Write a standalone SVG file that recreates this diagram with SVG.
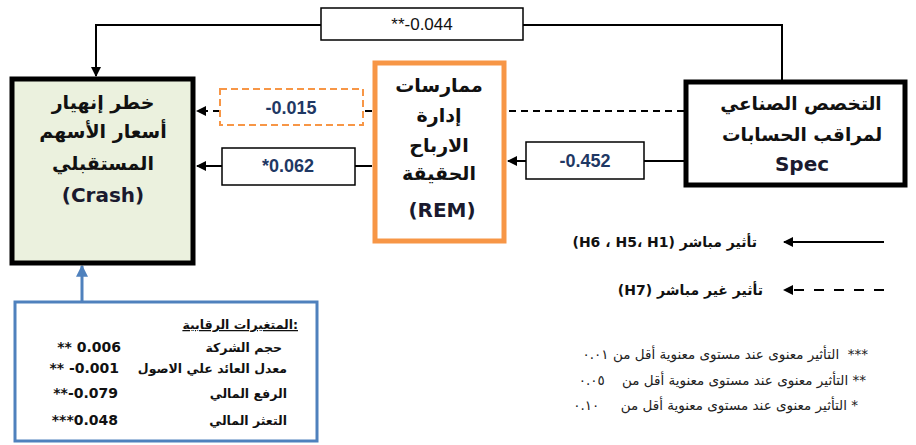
<svg xmlns="http://www.w3.org/2000/svg" width="916" height="445" viewBox="0 0 916 445">
<defs>
<marker id="ah" markerUnits="userSpaceOnUse" markerWidth="10" markerHeight="10" viewBox="0 0 10 10" refX="9" refY="5" orient="auto">
<path d="M0,0 L10,5 L0,10 Z" fill="#000"/>
</marker>
<marker id="ahb" markerUnits="userSpaceOnUse" markerWidth="12" markerHeight="12" viewBox="0 0 10 10" refX="9" refY="5" orient="auto">
<path d="M0,0 L10,5 L0,10 Z" fill="#4F81BD"/>
</marker>
<style>
.ar{font-family:"DejaVu Sans","Noto Sans",sans-serif;font-weight:bold;fill:#111;}
.big{font-size:19px;}
.lat{font-family:"DejaVu Sans","Liberation Sans",sans-serif;font-weight:bold;fill:#1a1a2e;font-size:20px;}
.lbl{font-family:"Liberation Sans",Arial,sans-serif;font-size:18px;font-weight:bold;fill:#1F3864;}
.box{fill:#fff;stroke:#000;stroke-width:1.5;}
.ln{fill:none;stroke:#000;stroke-width:2;}
.dash{fill:none;stroke:#000;stroke-width:2;stroke-dasharray:7,5;}
.sm{font-family:"DejaVu Sans",sans-serif;font-size:12.5px;font-weight:bold;fill:#111;}
.num{font-family:"DejaVu Sans",sans-serif;font-size:14px;font-weight:bold;fill:#111;}
.leg{font-family:"DejaVu Sans",sans-serif;font-size:14px;font-weight:bold;fill:#111;}
.note{font-family:"DejaVu Sans",sans-serif;font-size:13.5px;fill:#222;white-space:pre;}
</style>
</defs>
<rect width="916" height="445" fill="#fff"/>

<g id="connectors">
<polyline class="ln" points="782,80 782,25 96,25 96,76" marker-end="url(#ah)"/>
<line class="dash" x1="684" y1="111" x2="506" y2="111"/>
<line class="dash" x1="372" y1="111" x2="363" y2="111"/>
<line class="dash" x1="220" y1="111" x2="197" y2="111" marker-end="url(#ah)"/>
<line class="ln" x1="372" y1="166" x2="355" y2="166"/>
<line class="ln" x1="222" y1="166" x2="197" y2="166" marker-end="url(#ah)"/>
<line class="ln" x1="684" y1="161" x2="644" y2="161"/>
<line class="ln" x1="526" y1="161" x2="508" y2="161" marker-end="url(#ah)"/>
<line x1="82" y1="301" x2="82" y2="266" stroke="#4F81BD" stroke-width="3" marker-end="url(#ahb)"/>
</g>

<g id="label-top">
<rect class="box" x="321" y="8" width="202" height="32"/>
<text x="422" y="30" text-anchor="middle" direction="ltr" font-family="Liberation Sans, Arial, sans-serif" font-size="17" fill="#111">**-0.044</text>
</g>
<g id="label-015">
<rect x="220" y="89" width="143" height="36" fill="#fff" stroke="#F79646" stroke-width="2" stroke-dasharray="7,4"/>
<text class="lbl" x="291" y="114" text-anchor="middle">-0.015</text>
</g>
<g id="label-062">
<rect class="box" x="222" y="148" width="133" height="37"/>
<text class="lbl" x="288" y="172" text-anchor="middle">*0.062</text>
</g>
<g id="label-452">
<rect class="box" x="526" y="142" width="118" height="37"/>
<text class="lbl" x="585" y="167" text-anchor="middle">-0.452</text>
</g>

<g id="crash">
<rect x="12" y="79" width="181" height="184" fill="#EBF1DE" stroke="#000" stroke-width="5"/>
<text class="ar big" x="103" y="109" text-anchor="middle" direction="rtl">خطر إنهيار</text>
<text class="ar big" x="103" y="138" text-anchor="middle" direction="rtl">أسعار الأسهم</text>
<text class="ar big" x="103" y="170" text-anchor="middle" direction="rtl">المستقبلي</text>
<text class="lat" x="103" y="202" text-anchor="middle">(Crash)</text>
</g>

<g id="rem">
<rect x="375" y="63" width="129" height="178" fill="#fff" stroke="#F79646" stroke-width="5"/>
<text class="ar big" x="439" y="92" text-anchor="middle" direction="rtl">ممارسات</text>
<text class="ar big" x="439" y="122" text-anchor="middle" direction="rtl">إدارة</text>
<text class="ar big" x="439" y="152" text-anchor="middle" direction="rtl">الارباح</text>
<text class="ar big" x="439" y="180" text-anchor="middle" direction="rtl">الحقيقة</text>
<text class="lat" x="442" y="217" text-anchor="middle">(REM)</text>
</g>

<g id="spec">
<rect x="686" y="82" width="219" height="103" fill="#fff" stroke="#000" stroke-width="5"/>
<text class="ar" x="801" y="110" text-anchor="middle" direction="rtl" font-size="18.5">التخصص الصناعي</text>
<text class="ar" x="802" y="141" text-anchor="middle" direction="rtl" font-size="18.5">لمراقب الحسابات</text>
<text class="lat" x="802" y="171" text-anchor="middle">Spec</text>
</g>

<g id="controls">
<rect x="15" y="302" width="302" height="139" fill="#fff" stroke="#4F81BD" stroke-width="3"/>
<text class="sm" x="298" y="329" text-anchor="end" text-decoration="underline" font-size="15">المتغيرات الرقابية:</text>
<text class="sm" x="282" y="352" text-anchor="end">حجم الشركة</text>
<text class="num" x="121" y="352" text-anchor="end" direction="ltr">** 0.006</text>
<text class="sm" x="287" y="373" text-anchor="end">معدل العائد علي الاصول</text>
<text class="num" x="119" y="373" text-anchor="end" direction="ltr">** -0.001</text>
<text class="sm" x="287" y="398" text-anchor="end">الرفع المالي</text>
<text class="num" x="118" y="398" text-anchor="end" direction="ltr">**-0.079</text>
<text class="sm" x="287" y="425" text-anchor="end">التعثر المالي</text>
<text class="num" x="118" y="425" text-anchor="end" direction="ltr">***0.048</text>
</g>

<g id="legend">
<line class="ln" x1="884" y1="242" x2="784" y2="242" marker-end="url(#ah)"/>
<text class="leg" x="757" y="247" text-anchor="end">(H6 ، H5، H1) تأثير مباشر</text>
<line x1="884" y1="290" x2="784" y2="290" stroke="#000" stroke-width="2" stroke-dasharray="10,10" marker-end="url(#ah)"/>
<text class="leg" x="763" y="295" text-anchor="end">(H7) تأثير غير مباشر</text>
</g>

<g id="notes">
<text class="note" x="868" y="359" text-anchor="start" direction="rtl">***  التأثير معنوى عند مستوى معنوية أقل من ٠.٠١</text>
<text class="note" x="866" y="385" text-anchor="start" direction="rtl">** التأثير معنوى عند مستوى معنوية أقل من    ٠.٠٥</text>
<text class="note" x="858" y="410" text-anchor="start" direction="rtl">* التأثير معنوى عند مستوى معنوية أقل من     ٠.١٠</text>
</g>
</svg>
